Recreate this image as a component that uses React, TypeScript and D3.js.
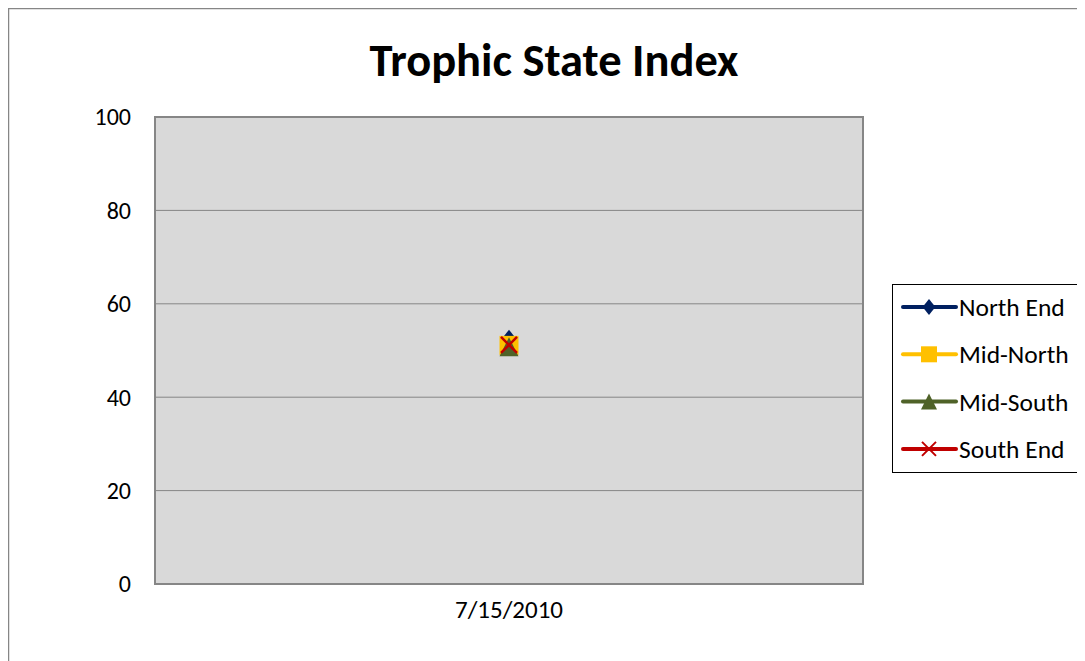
import React, { useRef, useEffect } from 'react';
import * as d3 from 'd3';

// data
const dates = ['7/15/2010'];
const seriesNames = ['North End', 'Mid-North', 'Mid-South', 'South End'];
const northEnd = [52.4];
const midNorth = [51.1];
const midSouth = [50.8];
const southEnd = [51.2];
const yTicks = [0, 20, 40, 60, 80, 100];

const colors = ['#002060', '#FFC000', '#4F6228', '#C00000'];
const markers = ['diamond', 'square', 'triangle', 'x'];

// layout
const width = 1077;
const height = 653;
const plot = { left: 147, top: 109, right: 855, bottom: 576 };
const font = 'Calibri, Carlito, Lato, sans-serif';

const markerPath = (type: string, s: number) => {
  if (type === 'diamond') return `M0,${-s}L${s * 0.8},0L0,${s}L${-s * 0.8},0Z`;
  if (type === 'square') return `M${-s},${-s}H${s}V${s}H${-s}Z`;
  if (type === 'triangle') return `M0,${-s}L${s},${s}H${-s}Z`;
  return `M${-s},${-s}L${s},${s}M${s},${-s}L${-s},${s}`;
};

const App = () => {
  const gRef = useRef<SVGGElement>(null);

  useEffect(() => {
    const g = d3.select(gRef.current);
    g.selectAll('*').remove();

    const x = d3.scalePoint().domain(dates).range([plot.left, plot.right]).padding(0.5);
    const y = d3.scaleLinear().domain([0, 100]).range([plot.bottom, plot.top]);

    // plot area
    g.append('rect')
      .attr('x', plot.left).attr('y', plot.top)
      .attr('width', plot.right - plot.left).attr('height', plot.bottom - plot.top)
      .attr('fill', '#D9D9D9').attr('stroke', '#868686').attr('stroke-width', 2);

    // gridlines
    g.selectAll('.grid').data(yTicks.slice(1, -1)).join('line')
      .attr('x1', plot.left).attr('x2', plot.right)
      .attr('y1', d => y(d)).attr('y2', d => y(d))
      .attr('stroke', '#868686').attr('stroke-width', 1);

    // y axis labels
    g.selectAll('.ylab').data(yTicks).join('text')
      .attr('x', plot.left - 24).attr('y', d => y(d))
      .attr('dy', '0.35em').attr('text-anchor', 'end')
      .attr('font-family', font).attr('font-size', 24)
      .text(d => d);

    // x axis labels
    g.selectAll('.xlab').data(dates).join('text')
      .attr('x', d => x(d)!).attr('y', plot.bottom + 25)
      .attr('dy', '0.35em')
      .attr('text-anchor', 'middle')
      .attr('font-family', font).attr('font-size', 25)
      .text(d => d);

    // series
    const allSeries = [northEnd, midNorth, midSouth, southEnd];
    allSeries.forEach((vals, i) => {
      const line = d3.line<number>().x((d, j) => x(dates[j])!).y(d => y(d));
      g.append('path').attr('d', line(vals)!)
        .attr('fill', 'none').attr('stroke', colors[i]).attr('stroke-width', 4);
      g.selectAll(`.m${i}`).data(vals).join('path')
        .attr('transform', (d, j) => `translate(${x(dates[j])},${y(d)})`)
        .attr('d', markerPath(markers[i], markers[i] === 'x' ? 8 : 9.5))
        .attr('fill', markers[i] === 'x' ? 'none' : colors[i])
        .attr('stroke', colors[i]).attr('stroke-width', markers[i] === 'x' ? 2.5 : 0);
    });

    // legend
    const lg = g.append('g').attr('transform', 'translate(884,276)');
    lg.append('rect').attr('x', 0.5).attr('y', 0.5).attr('width', 190).attr('height', 188)
      .attr('fill', '#fff').attr('stroke', '#000').attr('stroke-width', 1);
    seriesNames.forEach((name, i) => {
      const cy = 23 + i * 47.3;
      lg.append('line').attr('x1', 11).attr('x2', 64).attr('y1', cy).attr('y2', cy)
        .attr('stroke', colors[i]).attr('stroke-width', 4).attr('stroke-linecap', 'round');
      lg.append('path').attr('transform', `translate(37,${cy})`)
        .attr('d', markerPath(markers[i], markers[i] === 'x' ? 7 : 8))
        .attr('fill', markers[i] === 'x' ? 'none' : colors[i])
        .attr('stroke', colors[i]).attr('stroke-width', markers[i] === 'x' ? 2 : 0);
      lg.append('text').attr('x', 67).attr('y', cy).attr('dy', '0.35em')
        .attr('font-family', font).attr('font-size', 25.5)
        .text(name);
    });
  }, []);

  return (
    <svg width={width} height={height} style={{ display: 'block' }}>
      <rect x={0} y={0} width={width} height={height} fill="#fff" />
      <path d={`M0.5,${height}V0.5H${width}`} fill="none" stroke="#868686" strokeWidth={1.5} />
      <text x={554 - 8} y={52} dy="0.35em" textAnchor="middle" fontFamily={font} fontWeight="bold" fontSize={46.5}>
        Trophic State Index
      </text>
      <g ref={gRef}></g>
    </svg>
  );
};

export default App;
